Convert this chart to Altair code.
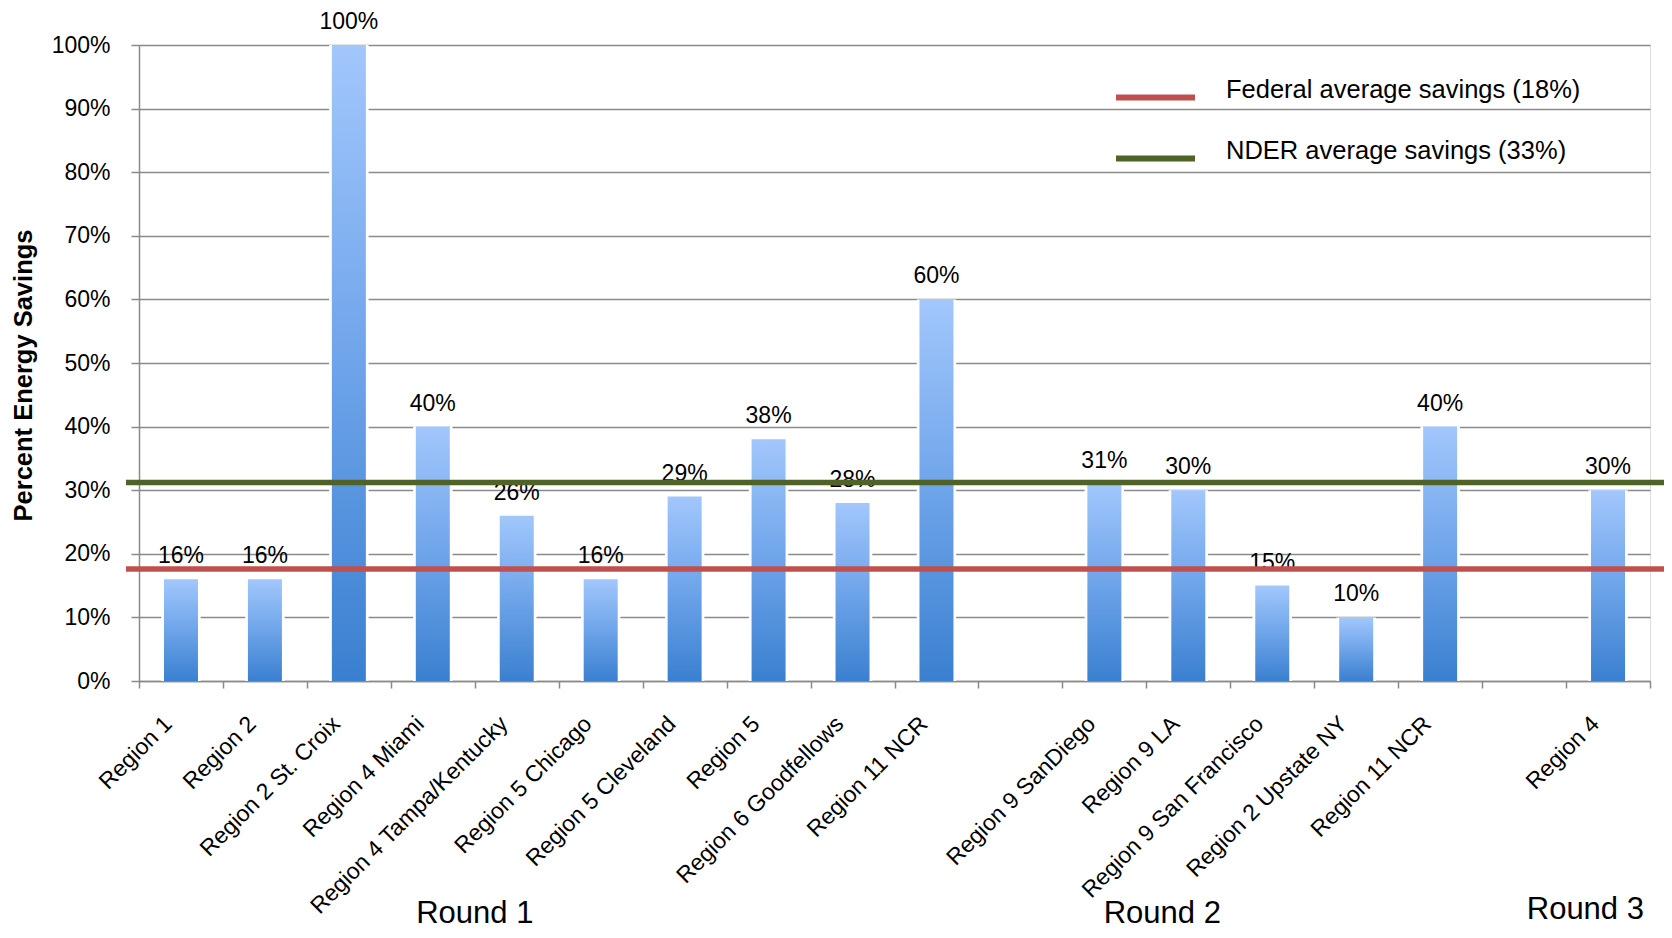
import json
import altair as alt
import pandas as pd

# ---------------- data ----------------
keys = [f"k{i:02d}" for i in range(18)]
names = [
    "Region 1", "Region 2", "Region 2 St. Croix", "Region 4 Miami",
    "Region 4 Tampa/Kentucky", "Region 5 Chicago", "Region 5 Cleveland",
    "Region 5", "Region 6 Goodfellows", "Region 11 NCR", "",
    "Region 9 SanDiego", "Region 9 LA", "Region 9 San Francisco",
    "Region 2 Upstate NY", "Region 11 NCR", "", "Region 4",
]
savings = [16, 16, 100, 40, 26, 16, 29, 38, 28, 60, None,
           31, 30, 15, 10, 40, None, 30]

avg_labels = ["Federal average savings (18%)", "NDER average savings (33%)"]
avg_levels = [17.6, 31.2]
avg_colors = ["#c0504d", "#4f6228"]

rounds = ["Round 1", "Round 2", "Round 3"]
round_keys = ["k04", "k12", "k17"]

# ---------------- frames ----------------
bars = pd.DataFrame({"key": keys, "name": names, "v": savings}).dropna(subset=["v"])
bars["label"] = bars["v"].astype(int).astype(str) + "%"
avgs = pd.DataFrame({"series": avg_labels, "level": avg_levels})

W, H = 1511, 636
FONT = "Liberation Sans"
GRAY = "#8a8a8a"

label_expr = (json.dumps(names) + "[indexof(" + json.dumps(keys) + ", datum.value)]")

x_enc = alt.X(
    "key:N",
    sort=keys,
    scale=alt.Scale(domain=keys, paddingInner=0, paddingOuter=0),
    axis=alt.Axis(
        title=None, labelExpr=label_expr, labelAngle=315, labelAlign="right",
        labelBaseline="middle", labelFontSize=23, labelFont=FONT,
        labelColor="black", labelPadding=32, labelOffset=-13, labelLimit=0,
        labelOverlap=False, tickBand="extent", tickSize=7, tickColor=GRAY,
        tickWidth=1.5, domainColor=GRAY, domainWidth=1.5, grid=False,
    ),
)
y_scale = alt.Scale(domain=[0, 100], nice=False)
y_enc = alt.Y(
    "v:Q", scale=y_scale,
    axis=alt.Axis(
        values=list(range(0, 101, 10)), labelExpr="datum.value + '%'",
        labelFontSize=23, labelFont=FONT, labelColor="black", labelPadding=21,
        tickSize=8, tickColor=GRAY, tickWidth=1.5, domainColor=GRAY,
        domainWidth=1.5, grid=True, gridColor=GRAY, gridWidth=1.5,
        title="Percent Energy Savings", titleFontSize=25.5, titleFont=FONT,
        titleFontWeight="bold", titleColor="black", titleAngle=270,
        titleX=-107.6, titleY=330, titleAlign="center",
        titleBaseline="alphabetic",
    ),
)

base = alt.Chart(bars)

glow = base.mark_bar(color="white", width=alt.RelativeBandSize(0.47)).encode(
    x=x_enc, y=y_enc)

grad = alt.Gradient(
    gradient="linear",
    stops=[alt.GradientStop(color="#a2c7fc", offset=0),
           alt.GradientStop(color="#6ea4ea", offset=0.5),
           alt.GradientStop(color="#3a80d0", offset=1)],
    x1=1, x2=1, y1=0, y2=1,
)
barl = base.mark_bar(color=grad, width=alt.RelativeBandSize(0.405)).encode(
    x=x_enc, y=y_enc)

text = base.mark_text(dy=-16, baseline="alphabetic", fontSize=23, font=FONT,
                      color="black").encode(x=x_enc, y=y_enc, text="label:N")

rules = alt.Chart(avgs).mark_rule(strokeWidth=5.5).encode(
    y=alt.Y("level:Q", scale=y_scale),
    x=alt.value(-13), x2=alt.value(W + 14),
    color=alt.Color(
        "series:N",
        scale=alt.Scale(domain=avg_labels, range=avg_colors),
        legend=alt.Legend(
            orient="none", legendX=974, legendY=10, title=None,
            symbolType="stroke", symbolSize=79 * 79, symbolStrokeWidth=6,
            labelFontSize=25.5, labelFont=FONT, labelColor="black",
            labelOffset=28, rowPadding=6, padding=0, labelLimit=0,
            labelBaseline="alphabetic",
        ),
    ),
)

round_layers = []
for r, k, bp, yy in zip(rounds, round_keys, [0.0, 0.19, 0.23], [878, 878, 874]):
    rd = pd.DataFrame({"key": [k], "round": [r]})
    round_layers.append(
        alt.Chart(rd).mark_text(fontSize=31, font=FONT, color="black",
                                baseline="alphabetic", align="center").encode(
            x=alt.X("key:N", sort=keys, bandPosition=bp),
            y=alt.value(yy), text="round:N")
    )

chart = alt.layer(glow, barl, text, rules, *round_layers).properties(
    width=W, height=H,
    autosize=alt.AutoSizeParams(type="none"),
    padding={"left": 131, "top": 37, "right": 14, "bottom": 248},
).configure_view(strokeWidth=0).configure(font=FONT, background="white")

chart.save("out.html", embed_options={"renderer": "svg", "actions": False})
